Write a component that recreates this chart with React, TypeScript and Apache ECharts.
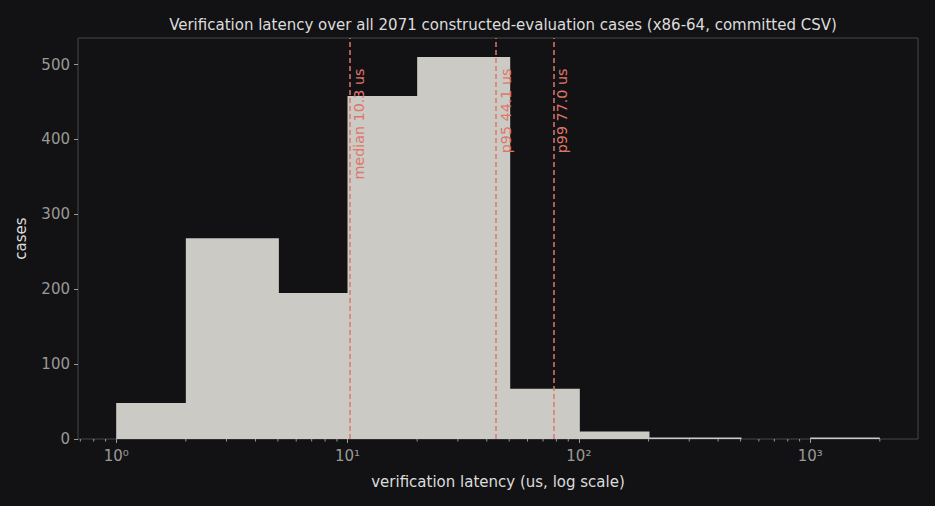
import React, { useEffect, useRef } from "react";
import * as echarts from "echarts";

const binEdges = [1, 2, 5, 10, 20, 50, 100, 200, 500, 1000, 2000];
const binCounts = [48, 268, 195, 458, 510, 67, 10, 2, 0, 2];
const markerValues = [10.3, 44.1, 77.0];
const markerLabels = ["median 10.3 us", "p95 44.1 us", "p99 77.0 us"];
const majorTicks = [1, 10, 100, 1000];
const majorLabels = ["10⁰", "10¹", "10²", "10³"];
const minorTicks = [0.7, 0.8, 0.9, 2, 3, 4, 5, 6, 7, 8, 9, 20, 30, 40, 50, 60, 70, 80, 90, 200, 300, 400, 500, 600, 700, 800, 900, 2000];
const titleText = "Verification latency over all 2071 constructed-evaluation cases (x86-64, committed CSV)";
const xName = "verification latency (us, log scale)";
const yName = "cases";

const BG = "#121214";
const BAR = "#cbcac5";
const MARK = "#e0766a";
const TICK = "#9a9994";
const TEXT = "#dcdcdc";
const FONT = "DejaVu Sans";

export default function App() {
  const ref = useRef<HTMLDivElement>(null);
  useEffect(() => {
    document.body.style.margin = "0";
    document.body.style.background = BG;
    const chart = echarts.init(ref.current!, null, { renderer: "svg" });
    const lg = (v: number) => Math.log10(v);
    const lo = lg(binEdges[0]);
    const hi = lg(binEdges[binEdges.length - 1]);
    const pad = (hi - lo) * 0.05;
    const maxCount = Math.max(...binCounts);
    const ymax = maxCount * 1.05;
    const barData = binCounts.map((c, i) => [lg(binEdges[i]), lg(binEdges[i + 1]), c]);
    const labelData = markerValues.map((v, i) => [lg(v), maxCount * 0.97, i]);
    const minorData = minorTicks.map((v) => [lg(v), 0]);
    const majorLog = majorTicks.map(lg);

    chart.setOption({
      animation: false,
      backgroundColor: BG,
      textStyle: { fontFamily: FONT },
      title: {
        text: titleText,
        left: 498,
        textAlign: "center",
        top: 12,
        textStyle: { color: TEXT, fontSize: 15, fontWeight: "normal", fontFamily: FONT },
      },
      grid: {
        left: 78,
        top: 38,
        right: 17,
        bottom: 67,
        show: true,
        borderColor: "#45454c",
        borderWidth: 1,
        backgroundColor: BG,
      },
      xAxis: {
        type: "value",
        min: lo - pad,
        max: hi + pad,
        name: xName,
        nameLocation: "middle",
        nameGap: 35,
        nameTextStyle: { color: TEXT, fontSize: 15, fontFamily: FONT },
        axisLine: { show: false, onZero: false },
        splitLine: { show: false },
        axisTick: {
          show: true,
          length: 4,
          lineStyle: { color: TICK },
          customValues: majorLog,
        },
        axisLabel: {
          color: TICK,
          fontSize: 15,
          fontFamily: FONT,
          margin: 9,
          customValues: majorLog,
          formatter: (v: number) => {
            const idx = majorLog.findIndex((m) => Math.abs(m - v) < 1e-9);
            return idx >= 0 ? majorLabels[idx] : "";
          },
        },
      },
      yAxis: {
        type: "value",
        min: 0,
        max: ymax,
        interval: 100,
        name: yName,
        nameLocation: "middle",
        nameGap: 50,
        nameTextStyle: { color: TEXT, fontSize: 15, fontFamily: FONT },
        axisLine: { show: false, onZero: false },
        splitLine: { show: false },
        axisTick: { show: true, length: 4, lineStyle: { color: TICK } },
        axisLabel: {
          color: TICK,
          fontSize: 15,
          fontFamily: FONT,
          margin: 8,
          showMaxLabel: false,
        },
      },
      series: [
        {
          type: "custom",
          name: "bins",
          data: barData,
          encode: { x: [0, 1], y: 2 },
          renderItem: (params: any, api: any) => {
            const p0 = api.coord([api.value(0), 0]);
            const p1 = api.coord([api.value(1), api.value(2)]);
            const isLast = params.dataIndex === binCounts.length - 1;
            return {
              type: "rect",
              shape: {
                x: p0[0],
                y: p1[1],
                width: p1[0] - p0[0] + (isLast ? 0 : 1),
                height: p0[1] - p1[1],
              },
              style: { fill: BAR },
            };
          },
          markLine: {
            silent: true,
            symbol: "none",
            label: { show: false },
            lineStyle: { color: MARK, type: [5, 3], width: 1.5 },
            data: markerValues.map((v) => ({ xAxis: lg(v) })),
          },
          z: 2,
        },
        {
          type: "custom",
          name: "labels",
          data: labelData,
          encode: { x: 0, y: 1 },
          z: 5,
          renderItem: (params: any, api: any) => {
            const p = api.coord([api.value(0), api.value(1)]);
            return {
              type: "text",
              x: p[0] + 2,
              y: p[1],
              rotation: Math.PI / 2,
              style: {
                text: markerLabels[api.value(2)],
                fill: MARK,
                fontSize: 14.3,
                fontFamily: FONT,
                align: "right",
                verticalAlign: "top",
              },
            };
          },
        },
        {
          type: "custom",
          name: "minor",
          data: minorData,
          encode: { x: 0, y: 1 },
          clip: false,
          renderItem: (params: any, api: any) => {
            const p = api.coord([api.value(0), 0]);
            return {
              type: "line",
              shape: { x1: p[0], y1: p[1], x2: p[0], y2: p[1] + 2.5 },
              style: { stroke: TICK, lineWidth: 1 },
            };
          },
        },
      ],
    });
    return () => chart.dispose();
  }, []);
  return <div ref={ref} style={{ width: 935, height: 506, position: "absolute", left: 0, top: 0 }} />;
}
